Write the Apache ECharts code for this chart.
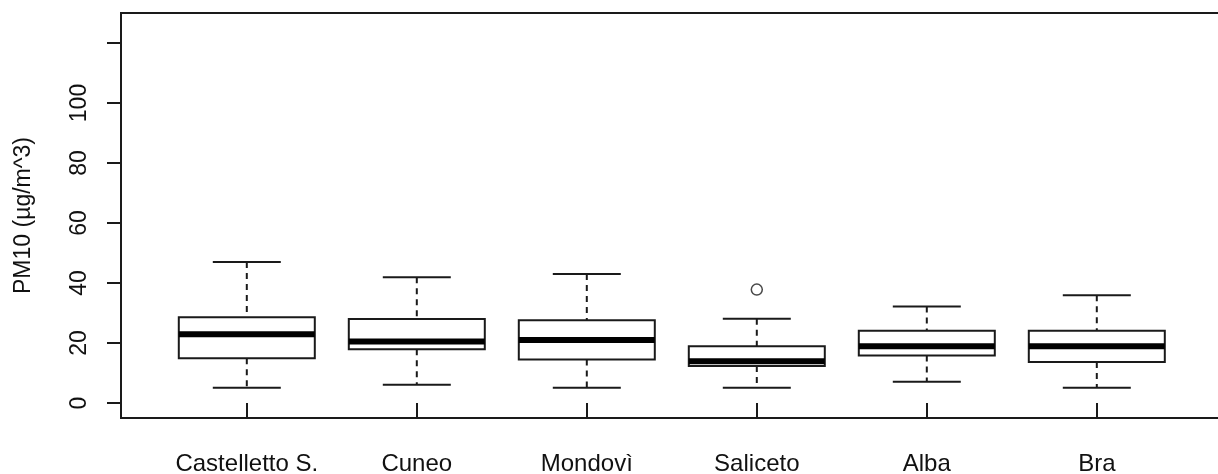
<!DOCTYPE html>
<html>
<head>
<meta charset="utf-8">
<script src="https://cdn.jsdelivr.net/npm/echarts@6/dist/echarts.min.js"></script>
<style>
html,body{margin:0;padding:0;background:#fff;}
#chart{width:1218px;height:474px;}
</style>
</head>
<body>
<div id="chart"></div>
<script>
// Data (PM10, µg/m^3)
const categories = ['Castelletto S.', 'Cuneo', 'Mondovì', 'Saliceto', 'Alba', 'Bra'];
const lowerWhisker = [5.1, 6.1, 5.1, 5.1, 7.1, 5.1];
const q1          = [14.9, 17.9, 14.5, 12.3, 15.8, 13.7];
const median      = [22.9, 20.5, 21.0, 13.9, 18.9, 18.9];
const q3          = [28.6, 28.0, 27.6, 18.9, 24.1, 24.1];
const upperWhisker= [47.0, 41.9, 43.0, 28.1, 32.2, 35.9];
const outliers    = [[4, 37.8]]; // [category position (1-based), value]
const yTicks      = [0, 20, 40, 60, 80, 100, 120];
const yLabels     = [0, 20, 40, 60, 80, 100];
const yLabelText  = 'PM10 (µg/m^3)';

const boxData = categories.map((c, i) => [i + 1, lowerWhisker[i], q1[i], median[i], q3[i], upperWhisker[i]]);
const FONT = 'Liberation Sans, Arial, sans-serif';
const LINE = '#1a1a1a';

const chart = echarts.init(document.getElementById('chart'), null, {renderer: 'canvas'});

function renderBox(params, api) {
  const x = api.value(0);
  const lw = api.value(1), b1 = api.value(2), md = api.value(3), b3 = api.value(4), uw = api.value(5);
  const half = 0.4, cap = 0.2;
  const pL = api.coord([x - half, b3]);
  const pR = api.coord([x + half, b1]);
  const pMedL = api.coord([x - half, md]);
  const pMedR = api.coord([x + half, md]);
  const pC = api.coord([x, uw]);
  const pCq3 = api.coord([x, b3]);
  const pCq1 = api.coord([x, b1]);
  const pCl = api.coord([x, lw]);
  const capL = api.coord([x - cap, uw])[0];
  const capR = api.coord([x + cap, uw])[0];
  const solid = {stroke: LINE, lineWidth: 2, fill: null};
  const dashed = {stroke: LINE, lineWidth: 2, lineDash: [6, 5]};
  return {
    type: 'group',
    children: [
      {type: 'line', shape: {x1: pC[0], y1: pC[1], x2: pCq3[0], y2: pCq3[1]}, style: dashed},
      {type: 'line', shape: {x1: pCq1[0], y1: pCq1[1], x2: pCl[0], y2: pCl[1]}, style: dashed},
      {type: 'line', shape: {x1: capL, y1: pC[1], x2: capR, y2: pC[1]}, style: solid},
      {type: 'line', shape: {x1: capL, y1: pCl[1], x2: capR, y2: pCl[1]}, style: solid},
      {type: 'rect', shape: {x: pL[0], y: pL[1], width: pR[0] - pL[0], height: pR[1] - pL[1]}, style: {stroke: LINE, lineWidth: 2, fill: '#fff'}},
      {type: 'line', shape: {x1: pMedL[0], y1: pMedL[1], x2: pMedR[0], y2: pMedR[1]}, style: {stroke: '#000', lineWidth: 6}}
    ]
  };
}

chart.setOption({
  animation: false,
  backgroundColor: '#fff',
  grid: {
    left: 121, top: 13, width: 1101.6, height: 405,
    outerBoundsMode: 'none', containLabel: false,
    show: true, borderColor: LINE, borderWidth: 2, backgroundColor: 'transparent'
  },
  xAxis: {
    type: 'value', min: 0.26, max: 6.74,
    splitLine: {show: false},
    axisLine: {show: false},
    axisTick: {show: true, length: 14, customValues: [1, 2, 3, 4, 5, 6], lineStyle: {color: LINE, width: 2}},
    axisLabel: {
      show: true, customValues: [1, 2, 3, 4, 5, 6], margin: 34,
      formatter: v => categories[Math.round(v) - 1] || '',
      color: '#111', fontFamily: FONT, fontSize: 24
    }
  },
  yAxis: {
    type: 'value', min: -5, max: 130,
    name: yLabelText, nameLocation: 'middle', nameRotate: 90, nameGap: 86,
    nameTextStyle: {color: '#111', fontFamily: FONT, fontSize: 23},
    splitLine: {show: false},
    axisLine: {show: false},
    axisTick: {show: true, length: 14, customValues: yTicks, lineStyle: {color: LINE, width: 2}},
    axisLabel: {
      show: true, customValues: yLabels, rotate: 90, margin: 30,
      color: '#111', fontFamily: FONT, fontSize: 23
    }
  },
  series: [
    {
      type: 'custom',
      renderItem: renderBox,
      data: boxData,
      encode: {x: 0, y: [1, 2, 3, 4, 5]},
      z: 2
    },
    {
      type: 'scatter',
      data: outliers,
      symbol: 'circle', symbolSize: 11,
      itemStyle: {color: '#fff', borderColor: LINE, borderWidth: 1.5},
      z: 3
    }
  ]
});
</script>
</body>
</html>
